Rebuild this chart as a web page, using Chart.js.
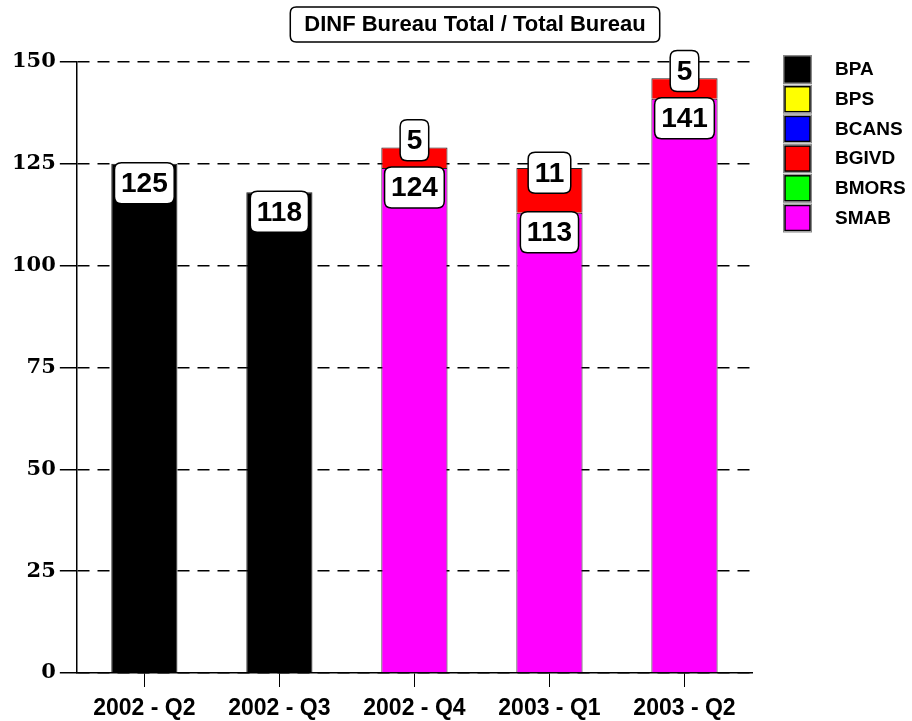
<!DOCTYPE html>
<html>
<head>
<meta charset="utf-8">
<script src="https://cdn.jsdelivr.net/npm/chart.js@4/dist/chart.umd.min.js"></script>
<style>
  body { margin: 0; background: #fff; }
  #wrap { width: 912px; height: 721px; }
</style>
</head>
<body>
<div id="wrap"><canvas id="my-chart"></canvas></div>
<script>
var quarters = ['2002 - Q2', '2002 - Q3', '2002 - Q4', '2003 - Q1', '2003 - Q2'];
var bpa   = [125, 118, null, null, null];
var bps   = [null, null, null, null, null];
var bcans = [null, null, null, null, null];
var bgivd = [null, null, 5, 11, 5];
var bmors = [null, null, null, null, null];
var smab  = [null, null, 124, 113, 141];
var yTicks = [0, 25, 50, 75, 100, 125, 150];
var chartTitle = 'DINF Bureau Total / Total Bureau';

function roundRect(ctx, x, y, w, h, r) {
    ctx.beginPath();
    ctx.moveTo(x + r, y);
    ctx.lineTo(x + w - r, y);
    ctx.quadraticCurveTo(x + w, y, x + w, y + r);
    ctx.lineTo(x + w, y + h - r);
    ctx.quadraticCurveTo(x + w, y + h, x + w - r, y + h);
    ctx.lineTo(x + r, y + h);
    ctx.quadraticCurveTo(x, y + h, x, y + h - r);
    ctx.lineTo(x, y + r);
    ctx.quadraticCurveTo(x, y, x + r, y);
    ctx.closePath();
}

// title box, legend and value boxes
var decorations = {
    id: 'decorations',
    afterDatasetsDraw: function(chart) {
        var ctx = chart.ctx;
        ctx.save();
        ctx.font = 'bold 28px "Liberation Sans", Arial, sans-serif';
        ctx.textAlign = 'center';
        ctx.textBaseline = 'middle';
        chart.data.datasets.forEach(function(ds, di) {
            var meta = chart.getDatasetMeta(di);
            meta.data.forEach(function(bar, i) {
                var v = ds.data[i];
                if (v == null) return;
                var below = false;
                for (var k = 0; k < di; k++) {
                    if (chart.data.datasets[k].data[i] != null) below = true;
                }
                var txt = String(v);
                var w = ctx.measureText(txt).width + 13;
                var h = 41;
                var top;
                if (below) {
                    top = (bar.y + bar.base) / 2 - h + 3;
                } else {
                    top = bar.y - 1;
                }
                roundRect(ctx, bar.x - w / 2, top, w, h, 7);
                ctx.fillStyle = '#fff';
                ctx.fill();
                ctx.lineWidth = 1.5;
                ctx.strokeStyle = '#000';
                ctx.stroke();
                ctx.fillStyle = '#000';
                ctx.fillText(txt, bar.x, top + h / 2 + 1);
            });
        });
        ctx.restore();
    },
    afterDraw: function(chart) {
        var ctx = chart.ctx;
        ctx.save();
        // title
        ctx.font = 'bold 22px "Liberation Sans", Arial, sans-serif';
        var tw = ctx.measureText(chartTitle).width;
        var cx = 475;
        roundRect(ctx, cx - tw / 2 - 14, 7, tw + 28, 35, 6);
        ctx.fillStyle = '#fff';
        ctx.fill();
        ctx.lineWidth = 1.5;
        ctx.strokeStyle = '#000';
        ctx.stroke();
        ctx.fillStyle = '#000';
        ctx.textAlign = 'center';
        ctx.textBaseline = 'middle';
        ctx.fillText(chartTitle, cx, 25);
        // legend
        ctx.font = 'bold 19px "Liberation Sans", Arial, sans-serif';
        ctx.textAlign = 'left';
        var items = chart.data.datasets.slice().reverse();
        items.forEach(function(ds, i) {
            var y = 57 + i * 29.7;
            ctx.fillStyle = ds.backgroundColor;
            ctx.fillRect(785, y, 25, 25);
            ctx.lineWidth = 1.5;
            ctx.strokeStyle = '#000';
            ctx.strokeRect(785, y, 25, 25);
            ctx.strokeStyle = '#888';
            ctx.lineWidth = 1;
            ctx.strokeRect(783.5, y - 1.5, 28, 28);
            ctx.fillStyle = '#000';
            ctx.fillText(ds.label, 835, y + 13);
        });
        ctx.restore();
    }
};

function makeSet(label, data, color) {
    return {
        label: label,
        data: data,
        backgroundColor: color,
        borderColor: '#222',
        borderWidth: 1,
        barPercentage: 0.49,
        categoryPercentage: 1
    };
}

var ctx = document.getElementById('my-chart').getContext('2d');
var myChart = new Chart(ctx, {
    type: 'bar',
    data: {
        labels: quarters,
        // stacking order, bottom first
        datasets: [
            makeSet('SMAB', smab, '#ff00ff'),
            makeSet('BMORS', bmors, '#00ff00'),
            makeSet('BGIVD', bgivd, '#ff0000'),
            makeSet('BCANS', bcans, '#0000ff'),
            makeSet('BPS', bps, '#ffff00'),
            makeSet('BPA', bpa, '#000000')
        ]
    },
    options: {
        responsive: true,
        maintainAspectRatio: false,
        animation: false,
        layout: {
            padding: { top: 62, right: 160, left: 8, bottom: 0 }
        },
        plugins: {
            legend: { display: false },
            title: { display: false },
            tooltip: { enabled: false }
        },
        scales: {
            x: {
                stacked: true,
                afterFit: function(scale) { scale.height = 48; },
                grid: {
                    offset: false,
                    drawOnChartArea: false,
                    color: '#000',
                    tickLength: 14
                },
                border: { color: '#000', width: 1.5 },
                ticks: {
                    color: '#000',
                    padding: 10,
                    font: { family: '"Liberation Sans", Arial, sans-serif', size: 23, weight: 'bold', lineHeight: 1 }
                }
            },
            y: {
                stacked: true,
                min: 0,
                max: 150,
                afterBuildTicks: function(axis) {
                    axis.ticks = yTicks.map(function(v) { return { value: v }; });
                },
                grid: {
                    color: '#000',
                    lineWidth: 1.5,
                    tickLength: 17,
                    tickColor: '#000'
                },
                border: { color: '#000', width: 1.5, dash: [12, 8] },
                ticks: {
                    color: '#000',
                    padding: 4,
                    font: { family: '"DejaVu Serif", serif', size: 21, weight: 'bold' }
                }
            }
        }
    },
    plugins: [decorations]
});
</script>
</body>
</html>
